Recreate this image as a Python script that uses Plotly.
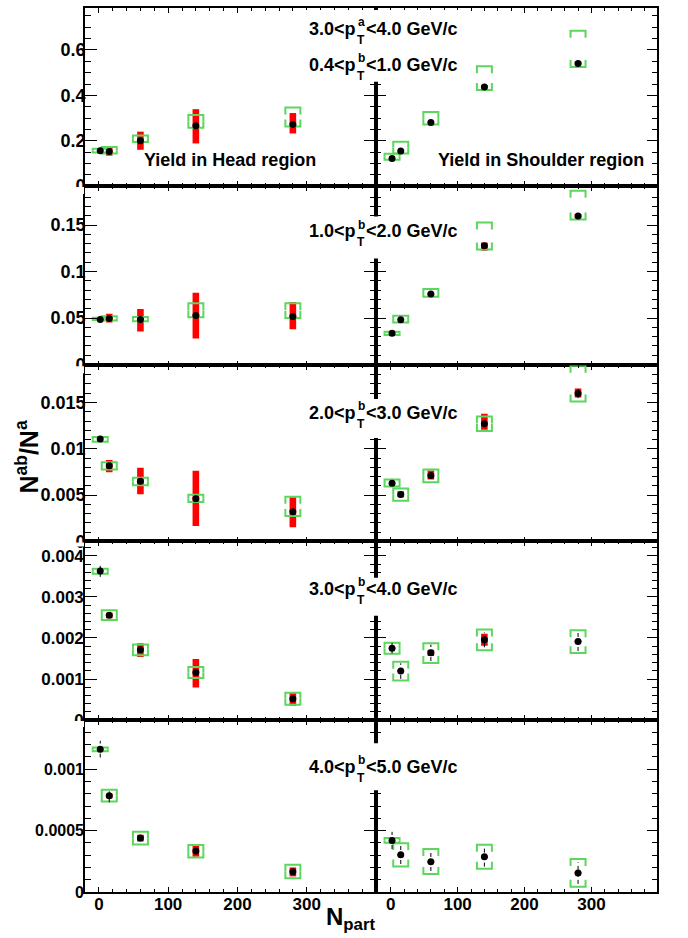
import plotly.graph_objects as go

# ---------------- data ----------------
npart = [2, 15, 60, 140, 280]

pta_lo, pta_hi = "3.0", "4.0"
ptb_lo = ["0.4", "1.0", "2.0", "3.0", "4.0"]
ptb_hi = ["1.0", "2.0", "3.0", "4.0", "5.0"]
region_labels = ["Yield in Head region", "Yield in Shoulder region"]
y_title = "N<sup>ab</sup>/N<sup>a</sup>"
x_title = "N<sub>part</sub>"

x_tick_vals = [0, 100, 200, 300]
x_tick_text = ["0", "100", "200", "300"]
y_tick_vals = [[0, 0.2, 0.4, 0.6],
               [0, 0.05, 0.1, 0.15],
               [0, 0.005, 0.01, 0.015],
               [0, 0.001, 0.002, 0.003, 0.004],
               [0, 0.0005, 0.001]]
y_tick_text = [["0", "0.2", "0.4", "0.6"],
               ["0", "0.05", "0.1", "0.15"],
               ["0", "0.005", "0.01", "0.015"],
               ["0", "0.001", "0.002", "0.003", "0.004"],
               ["0", "0.0005", "0.001"]]

# Head region
head_y = [[0.156, 0.152, 0.200, 0.266, 0.272],
          [0.0485, 0.0496, 0.0485, 0.0528, 0.0517],
          [0.01106, 0.00816, 0.00650, 0.00461, 0.00321],
          [0.003629, 0.002553, 0.001711, 0.00116, 0.000522],
          [0.001163, 0.000783, 0.000439, 0.000333, 0.000165]]
head_red_lo = [[None, 0.134, 0.160, 0.188, 0.232],
               [None, 0.0453, 0.0356, 0.0280, 0.0378],
               [None, 0.00747, 0.00510, 0.00167, 0.00153],
               [None, 0.00248, 0.001534, 0.000796, 0.000352],
               [None, 0.000764, 0.000411, 0.000287, 0.000127]]
head_red_hi = [[None, 0.169, 0.240, 0.339, 0.322],
               [None, 0.0546, 0.0597, 0.0772, 0.0672],
               [None, 0.00880, 0.00795, 0.00762, 0.00478],
               [None, 0.002617, 0.001874, 0.001485, 0.000675],
               [None, 0.000802, 0.000466, 0.000382, 0.000200]]
head_sys_lo = [[0.148, 0.144, 0.194, 0.257, 0.263],
               [0.0478, 0.0474, 0.0464, 0.0507, 0.0500],
               [0.01077, 0.00776, 0.00608, 0.00425, 0.00274],
               [0.003563, 0.00244, 0.001582, 0.001024, 0.000376],
               [0.001146, 0.000737, 0.000387, 0.000281, 0.000111]]
head_sys_hi = [[0.165, 0.172, 0.223, 0.313, 0.346],
               [0.0503, 0.0520, 0.0510, 0.0660, 0.0660],
               [0.01128, 0.00855, 0.00687, 0.00504, 0.00483],
               [0.003685, 0.002675, 0.00184, 0.00129, 0.000667],
               [0.001176, 0.000832, 0.00049, 0.000382, 0.000222]]
head_stat = [[0.004, 0.004, 0.005, 0.006, 0.006],
             [0.001, 0.001, 0.001, 0.001, 0.001],
             [0.0001, 0.0001, 0.0001, 0.0001, 0.0001],
             [0.00014, 0.00004, 0.00004, 0.00004, 0.00004],
             [0.000068, 0.000053, 0.00002, 0.00002, 0.00002]]

# Shoulder region
sh_y = [[0.122, 0.155, 0.280, 0.437, 0.540],
        [0.0335, 0.0482, 0.0758, 0.1277, 0.1597],
        [0.00629, 0.00508, 0.00712, 0.01271, 0.01597],
        [0.001752, 0.001194, 0.001638, 0.001954, 0.001913],
        [0.00042, 0.000303, 0.000246, 0.000287, 0.000154]]
sh_red_lo = [[None, None, None, 0.430, 0.535],
             [None, None, 0.0745, 0.1224, 0.1580],
             [None, 0.00478, 0.00669, 0.01206, 0.01554],
             [None, 0.00117, 0.001558, 0.001808, 0.00189],
             [None, 0.000295, 0.00024, 0.00028, 0.000148]]
sh_red_hi = [[None, None, None, 0.445, 0.550],
             [None, None, 0.0770, 0.1313, 0.1620],
             [None, 0.00543, 0.00766, 0.01378, 0.01650],
             [None, 0.00122, 0.001711, 0.0021, 0.00194],
             [None, 0.00031, 0.000252, 0.000294, 0.00016]]
sh_sys_lo = [[0.116, 0.144, 0.272, 0.424, 0.525],
             [0.0317, 0.0453, 0.0729, 0.1238, 0.1560],
             [0.00594, 0.00440, 0.00640, 0.01192, 0.01511],
             [0.001614, 0.000966, 0.001388, 0.001704, 0.001631],
             [0.000401, 0.000208, 0.000146, 0.000189, 0.000043]]
sh_sys_hi = [[0.143, 0.196, 0.327, 0.528, 0.685],
             [0.0353, 0.0525, 0.0812, 0.1528, 0.1869],
             [0.00669, 0.00572, 0.00776, 0.01349, 0.01895],
             [0.001881, 0.00142, 0.001874, 0.002204, 0.002189],
             [0.000439, 0.000398, 0.00035, 0.000385, 0.000268]]
sh_stat = [[0.004, 0.004, 0.005, 0.006, 0.007],
           [0.001, 0.001, 0.0012, 0.0015, 0.0015],
           [0.0002, 0.0002, 0.0002, 0.0003, 0.0005],
           [0.00013, 0.00019, 0.0002, 0.00018, 0.00023],
           [0.00007, 0.000075, 0.000075, 0.00008, 0.000088]]

# ---------------- layout geometry ----------------
W, H = 688, 938
ML, MR, MT, MB = 85, 31, 6, 46
PW, PH = W - ML - MR, H - MT - MB


def pxx(px):
    return (px - ML) / PW


def pxy(py):
    return (H - MB - py) / PH


col_edges = [85, 376, 657]
row_edges = [6, 184.5, 364.2, 540.7, 719.7, 892]
x_ranges = [[-20, 400], [-22, 398]]
y_ranges = [[0, 0.785], [-0.001, 0.192], [0, 0.019], [0, 0.00435], [0, 0.0014]]
minor_dy = [0.05, 0.01, 0.001, 0.0002, 0.0001]
ylab_size = [18, 18, 18, 17, 16]
ylab_standoff = [-6, -6, -6, -4, -4]
clip_h = [8, 8, 5, 7]

RED = "#ff0000"
GREEN = "#5cd65c"
FONT = "Liberation Sans"

fig = go.Figure()
layout_axes = {}

for r in range(5):
    for c in range(2):
        k = r * 2 + c + 1
        xs = "x" if k == 1 else f"x{k}"
        ys = "y" if k == 1 else f"y{k}"
        if c == 0:
            yv, rl, rh, sl, sh, st = head_y[r], head_red_lo[r], head_red_hi[r], head_sys_lo[r], head_sys_hi[r], head_stat[r]
        else:
            yv, rl, rh, sl, sh, st = sh_y[r], sh_red_lo[r], sh_red_hi[r], sh_sys_lo[r], sh_sys_hi[r], sh_stat[r]
        xr = x_ranges[c]
        yr = y_ranges[r]
        pux = (col_edges[c + 1] - col_edges[c]) / (xr[1] - xr[0])
        puy = (row_edges[r + 1] - row_edges[r]) / (yr[1] - yr[0])
        half_w = 7.5 / pux
        tick = 7.0 / puy
        bar_w = 6.6 / pux

        # red boxes
        bx, bb, bh = [], [], []
        for i in range(len(npart)):
            if rl[i] is not None:
                bx.append(npart[i]); bb.append(rl[i]); bh.append(rh[i] - rl[i])
        if bx:
            fig.add_trace(go.Bar(x=bx, y=bh, base=bb, width=bar_w, marker=dict(color=RED, line=dict(width=0)),
                                 xaxis=xs, yaxis=ys, hoverinfo="skip"))
        # green brackets
        gx, gy = [], []
        for i in range(len(npart)):
            x0, x1 = npart[i] - half_w, npart[i] + half_w
            lo, hi = sl[i], sh[i]
            t = min(tick, (hi - lo) / 2.0)
            gx += [x0, x0, x1, x1, None, x0, x0, x1, x1, None]
            gy += [hi - t, hi, hi, hi - t, None, lo + t, lo, lo, lo + t, None]
        fig.add_trace(go.Scatter(x=gx, y=gy, mode="lines", line=dict(color=GREEN, width=2),
                                 xaxis=xs, yaxis=ys, hoverinfo="skip"))
        # stat errors
        ex, ey = [], []
        for i in range(len(npart)):
            ex += [npart[i], npart[i], None]
            ey += [yv[i] - st[i], yv[i] + st[i], None]
        fig.add_trace(go.Scatter(x=ex, y=ey, mode="lines", line=dict(color="black", width=1, dash="4px,3px"),
                                 xaxis=xs, yaxis=ys, hoverinfo="skip"))
        # points
        fig.add_trace(go.Scatter(x=npart, y=yv, mode="markers", marker=dict(color="black", size=7),
                                 xaxis=xs, yaxis=ys))

        xa = dict(domain=[pxx(col_edges[c]), pxx(col_edges[c + 1])], range=xr, anchor=ys,
                  showline=True, linecolor="black", linewidth=1.6, mirror="ticks",
                  ticks="inside", ticklen=5, tickwidth=1, tickcolor="black",
                  tickmode="array", tickvals=x_tick_vals, ticktext=x_tick_text,
                  showticklabels=(r == 4), ticklabelstandoff=-4,
                  tickfont=dict(family=FONT, size=17, color="black", weight="bold"),
                  minor=dict(ticks="inside", ticklen=3, tickmode="linear", tick0=0, dtick=20,
                             tickcolor="black", tickwidth=1, showgrid=False),
                  showgrid=False, zeroline=False)
        ya = dict(domain=[pxy(row_edges[r + 1]), pxy(row_edges[r])], range=yr, anchor=xs,
                  showline=True, linecolor="black", linewidth=1.6, mirror="ticks",
                  ticks="inside", ticklen=12 if c == 0 else 10, tickwidth=1, tickcolor="black",
                  tickmode="array", tickvals=y_tick_vals[r], ticktext=y_tick_text[r],
                  showticklabels=(c == 0), ticklabelstandoff=ylab_standoff[r],
                  tickfont=dict(family=FONT, size=ylab_size[r], color="black", weight="bold"),
                  minor=dict(ticks="inside", ticklen=6 if c == 0 else 5, tickmode="linear", tick0=0,
                             dtick=minor_dy[r], tickcolor="black", tickwidth=1, showgrid=False),
                  showgrid=False, zeroline=False)
        layout_axes["xaxis" if k == 1 else f"xaxis{k}"] = xa
        layout_axes["yaxis" if k == 1 else f"yaxis{k}"] = ya

shapes = []
# thick middle axis
shapes.append(dict(type="line", xref="paper", yref="paper", x0=pxx(376), x1=pxx(376), y0=0, y1=1,
                   line=dict(color="black", width=3.5), layer="above"))
# clip the lower half of the "0" labels of the upper rows
for r in range(4):
    shapes.append(dict(type="rect", xref="paper", yref="paper", x0=pxx(25), x1=pxx(84),
                       y0=pxy(row_edges[r + 1] + clip_h[r]), y1=pxy(row_edges[r + 1] + 0.9),
                       fillcolor="white", line=dict(width=0), layer="above"))
# white boxes behind the pT labels
gaps = [(8, 80), (215, 257), (398, 437), (577, 615), (743, 790)]
for g0, g1 in gaps:
    shapes.append(dict(type="rect", xref="paper", yref="paper", x0=pxx(303), x1=pxx(462),
                       y0=pxy(g1), y1=pxy(g0), fillcolor="white", line=dict(width=0), layer="above"))

annotations = []
BIG = dict(family=FONT, size=18, color="black", weight="bold")
SMALL = dict(family=FONT, size=12, color="black", weight="bold")


def pt_label(yc, lo, hi, letter):
    annotations.append(dict(xref="paper", yref="paper", x=pxx(358), y=pxy(yc), xanchor="right", yanchor="middle",
                            text=f"{lo}&lt;p", showarrow=False, font=BIG))
    annotations.append(dict(xref="paper", yref="paper", x=pxx(361), y=pxy(yc - 7), xanchor="center", yanchor="middle",
                            text=letter, showarrow=False, font=SMALL))
    annotations.append(dict(xref="paper", yref="paper", x=pxx(361), y=pxy(yc + 11), xanchor="center", yanchor="middle",
                            text="T", showarrow=False, font=SMALL))
    annotations.append(dict(xref="paper", yref="paper", x=pxx(364), y=pxy(yc), xanchor="left", yanchor="middle",
                            text=f"&lt;{hi} GeV/c", showarrow=False, font=BIG))


pt_label(27, pta_lo, pta_hi, "a")
label_y = [63, 230, 411.5, 588.3, 766.7]
for r in range(5):
    pt_label(label_y[r], ptb_lo[r], ptb_hi[r], "b")

annotations.append(dict(xref="paper", yref="paper", x=pxx(229.7), y=pxy(158.7), xanchor="center", yanchor="middle",
                        text=region_labels[0], showarrow=False, font=BIG))
annotations.append(dict(xref="paper", yref="paper", x=pxx(540.5), y=pxy(158.7), xanchor="center", yanchor="middle",
                        text=region_labels[1], showarrow=False, font=BIG))
annotations.append(dict(xref="paper", yref="paper", x=pxx(27), y=pxy(455.6), xanchor="center", yanchor="middle",
                        text=y_title, textangle=-90, showarrow=False,
                        font=dict(family=FONT, size=25, color="black", weight="bold")))
annotations.append(dict(xref="paper", yref="paper", x=pxx(377), y=pxy(919), xanchor="right", yanchor="middle",
                        text=x_title, showarrow=False,
                        font=dict(family=FONT, size=24, color="black", weight="bold")))

fig.update_layout(width=W, height=H, margin=dict(l=ML, r=MR, t=MT, b=MB),
                  paper_bgcolor="white", plot_bgcolor="white", showlegend=False,
                  barmode="overlay", shapes=shapes, annotations=annotations, **layout_axes)

fig.write_html("out.html", config={"displayModeBar": False},
               post_script="document.body.style.margin='0px';document.body.style.overflow='hidden';")
